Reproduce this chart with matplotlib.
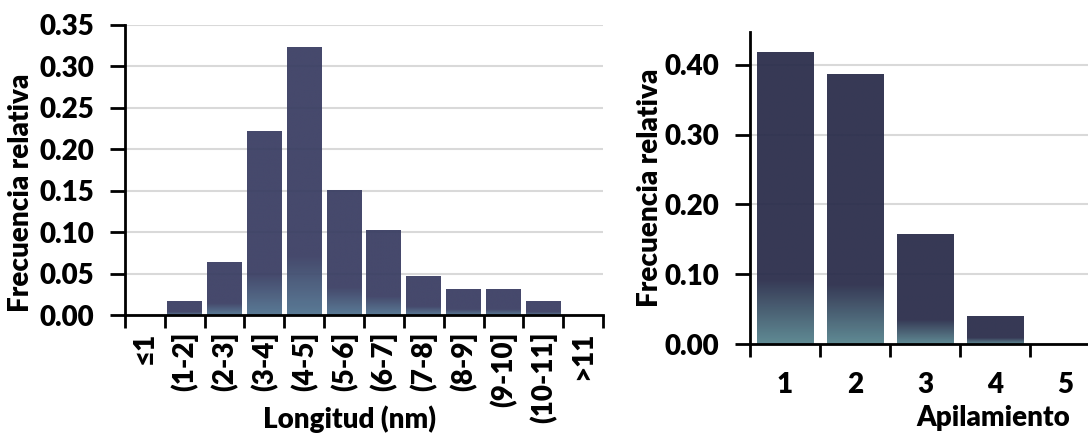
import numpy as np
import matplotlib
matplotlib.use("Agg")
import matplotlib.pyplot as plt
from matplotlib.colors import LinearSegmentedColormap
from matplotlib.ticker import FixedLocator, FormatStrFormatter

plt.rcParams["font.family"] = ["Lato", "DejaVu Sans"]
plt.rcParams["font.weight"] = "heavy"

# data
longitud_labels = ["≤1", "(1-2]", "(2-3]", "(3-4]", "(4-5]", "(5-6]",
                   "(6-7]", "(7-8]", "(8-9]", "(9-10]", "(10-11]", ">11"]
longitud_freq = [0.0, 0.016, 0.063, 0.221, 0.323, 0.150,
                 0.102, 0.047, 0.031, 0.031, 0.016, 0.0]

apil_labels = ["1", "2", "3", "4", "5"]
apil_freq = [0.417, 0.386, 0.157, 0.039, 0.0]

FS = 20
W = "heavy"
GRID = "#d9d9d9"


def gradient_cmap(top, bottom):
    # teal at the base fading into navy over the lower part of each bar
    return LinearSegmentedColormap.from_list(
        "bar", [(0.0, bottom), (0.22, top), (1.0, top)])


def gradient_bars(ax, values, width, cmap):
    x = np.arange(len(values))
    bars = ax.bar(x, values, width=width, color="none", zorder=2)
    grad = np.linspace(0, 1, 256).reshape(-1, 1)
    for b in bars:
        h = b.get_height()
        if h <= 0:
            continue
        x0 = b.get_x()
        ax.imshow(grad, cmap=cmap, origin="lower", aspect="auto", alpha=0.94,
                  extent=(x0, x0 + b.get_width(), 0, h), zorder=2,
                  interpolation="bilinear")
    return bars


def style_axes(ax, n, ylim, yticks, fmt, xlabels, xlabel_pad):
    ax.set_xlim(-0.5, n - 0.5)
    ax.set_ylim(*ylim)
    ax.set_aspect("auto")
    for s in ["top", "right"]:
        ax.spines[s].set_visible(False)
    for s in ["left", "bottom"]:
        ax.spines[s].set_linewidth(2)
        ax.spines[s].set_color("black")
    ax.yaxis.set_major_locator(FixedLocator(yticks))
    ax.yaxis.set_major_formatter(FormatStrFormatter(fmt))
    ax.yaxis.grid(True, color=GRID, linewidth=1.5, zorder=0)
    ax.set_axisbelow(True)
    # boundary ticks without labels, centered labels on minor ticks
    ax.xaxis.set_major_locator(FixedLocator(np.arange(n + 1) - 0.5))
    ax.xaxis.set_major_formatter(plt.NullFormatter())
    ax.xaxis.set_minor_locator(FixedLocator(np.arange(n)))
    ax.set_xticklabels(xlabels, minor=True)
    ax.tick_params(axis="x", which="major", direction="out", length=9, width=2)
    ax.tick_params(axis="x", which="minor", length=0, pad=xlabel_pad,
                   labelsize=FS)
    ax.tick_params(axis="y", direction="out", length=11, width=2,
                   pad=11, labelsize=FS)
    for lab in ax.get_yticklabels() + ax.get_xticklabels(minor=True):
        lab.set_fontweight(W)


fig = plt.figure(figsize=(10.88, 4.36), dpi=100)

ax1 = fig.add_axes([125 / 1088, 121 / 436, 478 / 1088, 290 / 436])
gradient_bars(ax1, longitud_freq, 0.875, gradient_cmap("#393d62", "#4f728f"))
style_axes(ax1, len(longitud_freq), (0, 0.35),
           np.arange(0, 0.351, 0.05), "%.2f", longitud_labels, 12)
for lab in ax1.get_xticklabels(minor=True):
    lab.set_rotation(90)
    lab.set_va("top")
ax1.set_ylabel("Frecuencia relativa", fontsize=FS, fontweight=W)
ax1.yaxis.set_label_coords(-0.19, 0.42)
ax1.set_xlabel("Longitud (nm)", fontsize=FS, fontweight=W)
ax1.xaxis.set_label_coords(0.47, -0.31)

ax2 = fig.add_axes([750 / 1088, 91.7 / 436, 350 / 1088, 312.6 / 436])
gradient_bars(ax2, apil_freq, 0.81, gradient_cmap("#292c4a", "#55838d"))
style_axes(ax2, len(apil_freq), (0, 0.447),
           np.arange(0, 0.401, 0.10), "%.2f", apil_labels, 20)
ax2.set_ylabel("Frecuencia relativa", fontsize=FS, fontweight=W)
ax2.yaxis.set_label_coords(-0.25, 0.5)
ax2.set_xlabel("Apilamiento", fontsize=FS, fontweight=W)
ax2.xaxis.set_label_coords(0.694, -0.194)

fig.savefig("out.png", dpi=100)
